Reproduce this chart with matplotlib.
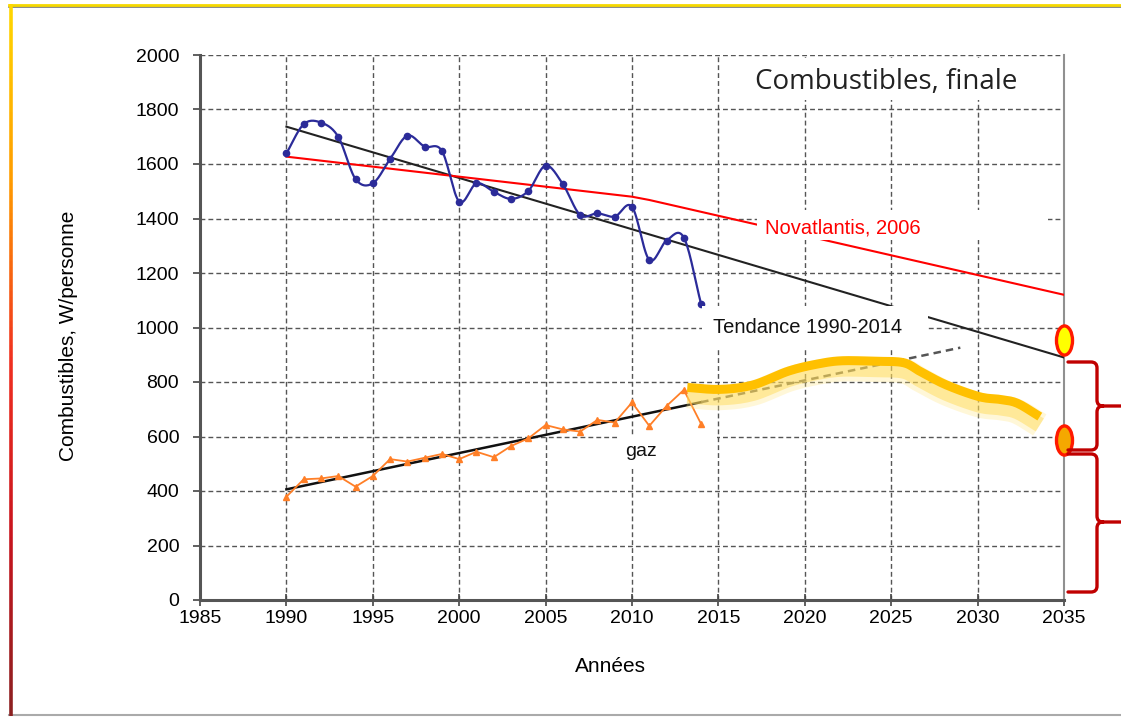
import numpy as np
import matplotlib
matplotlib.use('Agg')
import matplotlib.pyplot as plt
from matplotlib.path import Path
from matplotlib.patches import PathPatch, Rectangle
from matplotlib.collections import LineCollection
from matplotlib.colors import LinearSegmentedColormap
import matplotlib.patheffects as pe

# ---------------- data ----------------
years = list(range(1990, 2015))
combustibles = [1639, 1746, 1752, 1700, 1545, 1529, 1618, 1704, 1664, 1648,
                1462, 1529, 1498, 1472, 1501, 1594, 1526, 1413, 1419, 1407,
                1443, 1248, 1319, 1330, 1086]
gaz = [379, 443, 446, 455, 416, 455, 517, 508, 522, 536,
       517, 544, 524, 565, 593, 642, 626, 618, 661, 651,
       725, 639, 712, 771, 646]

trend_comb_years = [1990, 2035]
trend_comb_vals = [1737, 890]
trend_gaz_years = [1990, 2014]
trend_gaz_vals = [406, 726]
trend_gaz_ext_years = [2014, 2029]
trend_gaz_ext_vals = [726, 926]

novatlantis_years = [1990, 2010, 2011, 2035]
novatlantis_vals = [1627, 1480, 1468, 1120]

scenario_years = [2013.2, 2015.1, 2017.0, 2019.1, 2020.9, 2022.2, 2024.0,
                  2025.7, 2026.7, 2028.2, 2030.1, 2031.3, 2032.3, 2033.6]
scenario_vals = [780, 773, 789, 841, 868, 878, 876, 871, 838, 789, 746, 736, 722, 673]

marker_years = [2035, 2035]
marker_vals = [954, 587]
marker_colors = ['#FFFF00', '#F5A800']

xticks = list(range(1985, 2040, 5))
yticks = list(range(0, 2200, 200))

title = "Combustibles, finale"
ylabel = "Combustibles, W/personne"
xlabel = "Années"

# ---------------- helpers ----------------
def smooth(x, y, n=16):
    x = np.asarray(x, float)
    y = np.asarray(y, float)
    px = np.concatenate([[2 * x[0] - x[1]], x, [2 * x[-1] - x[-2]]])
    py = np.concatenate([[2 * y[0] - y[1]], y, [2 * y[-1] - y[-2]]])
    t = np.linspace(0, 1, n, endpoint=False)
    ox, oy = [], []
    for i in range(1, len(px) - 2):
        x0, x1, x2, x3 = px[i - 1], px[i], px[i + 1], px[i + 2]
        y0, y1, y2, y3 = py[i - 1], py[i], py[i + 1], py[i + 2]
        cx1, cy1 = x1 + (x2 - x0) / 6, y1 + (y2 - y0) / 6
        cx2, cy2 = x2 - (x3 - x1) / 6, y2 - (y3 - y1) / 6
        bx = (1 - t) ** 3 * x1 + 3 * (1 - t) ** 2 * t * cx1 + 3 * (1 - t) * t ** 2 * cx2 + t ** 3 * x2
        by = (1 - t) ** 3 * y1 + 3 * (1 - t) ** 2 * t * cy1 + 3 * (1 - t) * t ** 2 * cy2 + t ** 3 * y2
        ox.extend(bx)
        oy.extend(by)
    ox.append(x[-1])
    oy.append(y[-1])
    return np.array(ox), np.array(oy)

W, H = 1121, 717
plt.rcParams['font.family'] = ['Liberation Sans', 'DejaVu Sans']
fig = plt.figure(figsize=(W / 100, H / 100), dpi=100)
fig.patch.set_facecolor('white')

ax = fig.add_axes([200 / W, 1 - 600 / H, 864 / W, 545 / H])
ax.set_xlim(1985, 2035)
ax.set_ylim(0, 2000)
ax.set_xticks(xticks)
ax.set_yticks(yticks)
ax.tick_params(axis='y', direction='out', length=5, width=1.2, color='#444444',
               labelsize=14, pad=10)
ax.tick_params(axis='x', direction='inout', length=8, width=1.2, color='#444444',
               labelsize=14, pad=3)
ax.grid(True, color='#555555', linestyle=(0, (3.5, 2.2)), linewidth=1.0, zorder=0)
ax.set_axisbelow(True)
for s in ['left', 'bottom']:
    ax.spines[s].set_color('#555555')
    ax.spines[s].set_linewidth(2.2)
ax.spines['top'].set_visible(False)
ax.spines['right'].set_color('#909090')
ax.spines['right'].set_linewidth(1.5)

ax.set_ylabel(ylabel, fontsize=15, va='center')
ax.yaxis.set_label_coords((68 - 200) / 864, (600 - 336) / 545)
ax.set_xlabel(xlabel, fontsize=15, va='center')
ax.xaxis.set_label_coords((610 - 200) / 864, (600 - 667) / 545)

# trend lines
ax.plot(trend_comb_years, trend_comb_vals, color='#222222', lw=1.5, zorder=3)
ax.plot(trend_gaz_years, trend_gaz_vals, color='#111111', lw=1.8, zorder=3)
ax.plot(trend_gaz_ext_years, trend_gaz_ext_vals, color='#555555', lw=1.8,
        linestyle=(0, (3, 2)), zorder=3)
# Novatlantis
ax.plot(novatlantis_years, novatlantis_vals, color='#FF0000', lw=1.5, zorder=3)

# series
sx, sy = smooth(years, combustibles)
ax.plot(sx, sy, color='#2B2B99', lw=1.6, zorder=4)
ax.plot(years, combustibles, linestyle='none', marker='o', ms=4.5,
        color='#2B2B99', zorder=4)
ax.plot(years, gaz, color='#FF7F27', lw=1.3, marker='^', ms=4, zorder=4)

# label boxes (white backgrounds hiding grid)
def px2data(xp, yp):
    return 1985 + (xp - 200) / 864 * 50, (600 - yp) / 545 * 2000

def white_box(x0p, y0p, x1p, y1p):
    x0, y1 = px2data(x0p, y0p)
    x1, y0 = px2data(x1p, y1p)
    ax.add_patch(Rectangle((x0, y0), x1 - x0, y1 - y0, facecolor='white',
                           edgecolor='none', zorder=5))

white_box(723, 58, 1061, 100)
white_box(702, 306, 928, 348)
white_box(757, 210, 1048, 240)
white_box(620, 436, 717, 468)

tx, ty = px2data(886, 82)
ax.text(tx, ty, title, fontsize=20, family=['Open Sans', 'DejaVu Sans'],
        color='#222222', ha='center', va='center', zorder=6)
tx, ty = px2data(808, 328)
ax.text(tx, ty, "Tendance 1990-2014", fontsize=14.5, color='#111111',
        ha='center', va='center', zorder=6)
tx, ty = px2data(765, 228)
ax.text(tx, ty, "Novatlantis, 2006", fontsize=14.5, color='#FF0000',
        ha='left', va='center', zorder=6)
tx, ty = px2data(625, 451)
ax.text(tx, ty, "gaz", fontsize=14, color='#111111', ha='left', va='center', zorder=6)

# yellow scenario highlight with glow
hx, hy = smooth(scenario_years, scenario_vals, n=10)
glow = [pe.SimpleLineShadow(offset=(0, -6), shadow_color='#FFE680', alpha=0.3, linewidth=18),
        pe.SimpleLineShadow(offset=(0, -6), shadow_color='#FFD84D', alpha=0.45, linewidth=11),
        pe.Normal()]
ax.plot(hx, hy, color='#FFC000', lw=6.5, solid_capstyle='butt', zorder=7,
        path_effects=glow)

# ellipse markers
circ = Path.unit_circle()
ell = Path(circ.vertices * np.array([0.55, 1.0]), circ.codes)
for xv, yv, c in zip(marker_years, marker_vals, marker_colors):
    ax.plot([xv], [yv], marker=ell, ms=21, markerfacecolor=c,
            markeredgecolor='#FF1A00', markeredgewidth=2.4, linestyle='none',
            clip_on=False, zorder=9)

# braces in pixel coordinates
def P(x, y):
    return (x / W, 1 - y / H)

def brace(top, mid, bot):
    xa, xb, xt = 1068, 1097, 1121
    r = 6
    verts = [P(xa, top), P(xb - r, top), P(xb, top), P(xb, top + r),
             P(xb, mid - r), P(xb, mid), P(xb + r, mid), P(xt, mid),
             P(xb + r, mid), P(xb, mid), P(xb, mid + r),
             P(xb, bot - r), P(xb, bot), P(xb - r, bot), P(xa, bot)]
    codes = [Path.MOVETO, Path.LINETO, Path.CURVE3, Path.CURVE3,
             Path.LINETO, Path.CURVE3, Path.CURVE3, Path.LINETO,
             Path.MOVETO, Path.CURVE3, Path.CURVE3,
             Path.LINETO, Path.CURVE3, Path.CURVE3, Path.LINETO]
    fig.add_artist(PathPatch(Path(verts, codes), transform=fig.transFigure,
                             facecolor='none', edgecolor='#C00000', lw=2.4,
                             capstyle='round', joinstyle='round'))

brace(362, 406, 450)
brace(454, 522, 592)

# frame of the picture
fig.add_artist(plt.Line2D([9 / W, 1], [1 - 6.5 / H] * 2, transform=fig.transFigure,
                          color='#777777', lw=1.2))
fig.add_artist(plt.Line2D([9 / W, 1], [1 - 4.5 / H] * 2, transform=fig.transFigure,
                          color='#F5D800', lw=2.0))
fig.add_artist(plt.Line2D([9 / W, 1], [1 - 715 / H] * 2, transform=fig.transFigure,
                          color='#AAAAAA', lw=1.5))
cmap = LinearSegmentedColormap.from_list('edge', ['#FFD700', '#FF9A00', '#F03020',
                                                  '#C8141E', '#8B2020'])
ys = np.linspace(4, 716, 120)
segs = [[P(10.5, ys[i]), P(10.5, ys[i + 1])] for i in range(len(ys) - 1)]
lc = LineCollection(segs, colors=cmap(np.linspace(0, 1, len(segs))), linewidths=2.6,
                    transform=fig.transFigure)
fig.add_artist(lc)

fig.savefig('out.png', dpi=100)
